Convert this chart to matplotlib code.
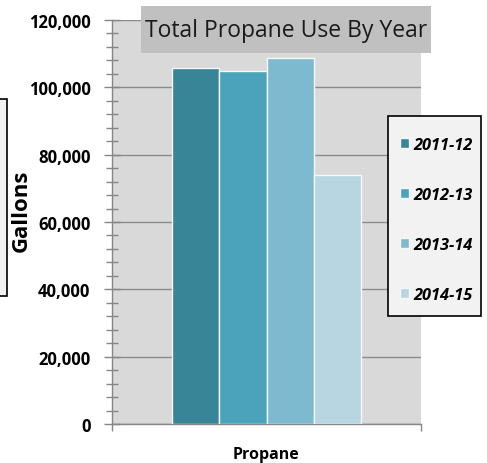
import matplotlib
matplotlib.use("Agg")
import matplotlib.pyplot as plt
from matplotlib.patches import Rectangle
from matplotlib.ticker import MultipleLocator, FuncFormatter

# ---- data ----
category = "Propane"
years = ["2011-12", "2012-13", "2013-14", "2014-15"]
gallons = [105800, 104900, 108800, 74000]
colors = ["#398598", "#4aa3bb", "#7dbad0", "#b7d6e2"]
title = "Total Propane Use By Year"
ylabel = "Gallons"

W, H = 487, 464
plt.rcParams['font.family'] = ['Open Sans', 'DejaVu Sans']
fig = plt.figure(figsize=(W / 100, H / 100), dpi=100)

def fx(px):
    return px / W

def fy(py):
    return 1 - py / H

ax_l, ax_r, ax_t, ax_b = 112, 421, 21, 425
ax = fig.add_axes([fx(ax_l), fy(ax_b), fx(ax_r - ax_l), (ax_b - ax_t) / H])
ax.set_facecolor("#d9d9d9")

bw = 0.153
for i, (yr, v, c) in enumerate(zip(years, gallons, colors)):
    ax.bar((i - 1.5) * bw, v, width=bw, color=c, edgecolor="#f4f8fa",
           linewidth=1.0, label=yr, zorder=3)

ax.set_xlim(-0.5, 0.5)
ax.set_ylim(0, 120000)
ax.yaxis.set_major_locator(MultipleLocator(20000))
ax.yaxis.set_minor_locator(MultipleLocator(4000))
ax.yaxis.set_major_formatter(FuncFormatter(lambda v, p: f"{int(v):,}"))
ax.grid(axis="y", which="major", color="#8a8a8a", linewidth=1.0, zorder=1)
ax.set_axisbelow(True)

ax.set_xticks([-0.5, 0.5])
ax.set_xticklabels(["", ""])
ax.tick_params(axis="x", direction="out", length=5, color="#868686", width=1)
ax.tick_params(axis="y", which="major", direction="inout", length=11,
               color="#868686", width=1, labelsize=12, pad=10)
ax.tick_params(axis="y", which="minor", direction="inout", length=8,
               color="#868686", width=1)
for lab in ax.get_yticklabels():
    lab.set_fontweight("bold")

for s in ["top", "right"]:
    ax.spines[s].set_visible(False)
for s in ["left", "bottom"]:
    ax.spines[s].set_color("#868686")
    ax.spines[s].set_linewidth(1)

# x category label
fig.text(fx(266), fy(455), category, ha="center", va="center",
         fontsize=11.5, fontweight="bold")

# y label with partial box
fig.patches.append(Rectangle((fx(-10), fy(297)), fx(17), (297 - 100) / H,
                             transform=fig.transFigure, facecolor="#f2f2f2",
                             edgecolor="black", linewidth=1.2))
fig.text(fx(21), fy(211), ylabel, ha="center", va="center", rotation=90,
         fontsize=16, fontweight="bold")

# title box
fig.patches.append(Rectangle((fx(141), fy(54)), fx(431 - 141), (54 - 7) / H,
                             transform=fig.transFigure, facecolor="#c0c0c0",
                             edgecolor="none", zorder=5))
fig.text(fx(286), fy(31), title, ha="center", va="center", fontsize=16.5,
         color="#1a1a1a", zorder=6)

# legend box (frame drawn separately)
fig.patches.append(Rectangle((fx(388), fy(317)), fx(481 - 388), (317 - 117) / H,
                             transform=fig.transFigure, facecolor="#f2f2f2",
                             edgecolor="black", linewidth=1.2, zorder=9))
handles, labels = ax.get_legend_handles_labels()
leg = fig.legend(handles, labels, loc="upper left",
                 bbox_to_anchor=(fx(395), fy(133)),
                 bbox_transform=fig.transFigure, frameon=False,
                 prop={"weight": "bold", "style": "italic", "size": 11.8},
                 handlelength=0.55, handleheight=0.55, handletextpad=0.3,
                 labelspacing=2.07, borderpad=0.3, borderaxespad=0)
leg.set_zorder(10)

fig.savefig("out.png", dpi=100)
